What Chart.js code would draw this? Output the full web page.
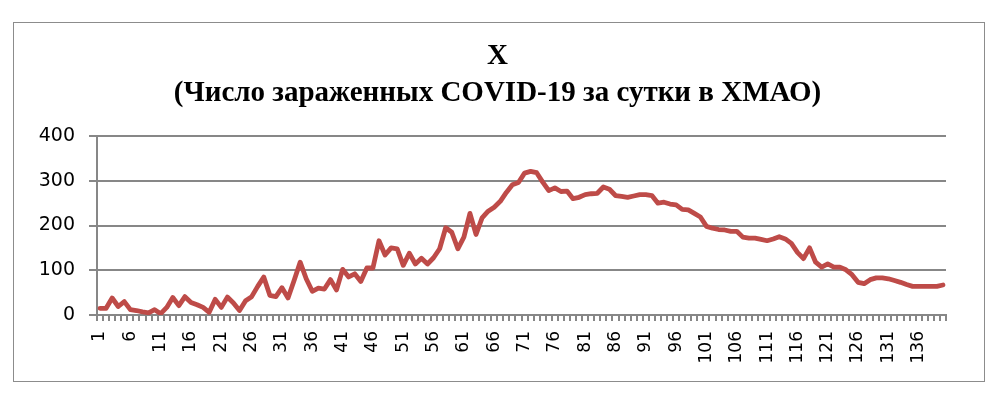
<!DOCTYPE html>
<html lang="ru">

<head>
  <meta charset="UTF-8">
  <meta name="viewport" content="width=device-width, initial-scale=1.0">
  <script src="https://cdn.jsdelivr.net/npm/chart.js"></script>
  <title>COVID-19 ХМАО</title>
  <style>
    body {
      margin: 0;
      background: #fff;
    }

    .moldura {
      position: absolute;
      left: 13px;
      top: 22px;
      width: 972px;
      height: 360px;
      border: 1px solid #8c8c8c;
      box-sizing: border-box;
    }
  </style>
</head>

<body>
  <div class="moldura">
    <canvas id="grafico"></canvas>
  </div>

  <script>
    // число заражённых за сутки
    const casos = [
      15, 15, 38, 19, 30, 12, 10, 7, 5, 12,
      3, 17, 39, 21, 41, 28, 23, 17, 6, 35,
      17, 40, 27, 10, 32, 41, 64, 85, 44, 41,
      61, 38, 77, 118, 81, 53, 60, 58, 79, 56,
      102, 85, 92, 75, 105, 105, 166, 134, 150, 148,
      111, 138, 114, 127, 114, 128, 148, 195, 185, 148,
      174, 227, 180, 217, 232, 241, 254, 274, 291, 296,
      317, 321, 318, 297, 278, 284, 276, 277, 260, 263,
      269, 271, 272, 286, 281, 267, 265, 263, 266, 269,
      269, 267, 250, 252, 248, 246, 236, 235, 227, 219,
      198, 194, 191, 190, 187, 187, 174, 172, 172, 169,
      166, 170, 175, 170, 160, 140, 126, 150, 118, 107,
      114, 107, 107, 101, 90, 73, 70, 79, 83, 83,
      81, 77, 73, 68, 64, 64, 64, 64, 64, 67
    ];

    // дни 1..140
    const dias = casos.map((v, i) => String(i + 1));

    const titulo = ['X', '(Число зараженных COVID-19 за сутки в ХМАО)'];

    const yMin = 0;
    const yMax = 400;
    const yPasso = 100;
    const passoRotulo = 5;

    const cinza = '#878787';

    // o titulo fica centrado na moldura inteira, nao so na area com padding
    const centralizaTitulo = {
      id: 'centralizaTitulo',
      beforeDraw: function (chart) {
        const bloco = chart.titleBlock;
        if (bloco) {
          bloco.left = 0;
          bloco.right = chart.width - 3;
        }
      }
    };

    const dados = {
      labels: dias,
      datasets: [{
        label: 'X',
        data: casos,
        borderColor: '#be4b48',
        borderWidth: 4.8,
        borderJoinStyle: 'round',
        borderCapStyle: 'round',
        pointRadius: 0,
        fill: false,
        tension: 0
      }]
    };

    const config = {
      type: 'line',
      data: dados,
      plugins: [centralizaTitulo],
      options: {
        responsive: true,
        maintainAspectRatio: false,
        animation: false,
        devicePixelRatio: 1,
        layout: {
          padding: { left: 0, right: 38, top: 0, bottom: 0 }
        },
        plugins: {
          legend: { display: false },
          tooltip: { enabled: false },
          title: {
            display: true,
            text: titulo,
            color: '#000',
            font: { family: 'Liberation Serif', weight: 'bold', size: 29, lineHeight: 1.276 },
            padding: { top: 15.5, bottom: 23.5 }
          }
        },
        scales: {
          x: {
            offset: true,
            grid: {
              offset: true,
              drawOnChartArea: false,
              color: cinza,
              lineWidth: 2,
              tickLength: 6
            },
            border: { display: true, color: cinza, width: 2 },
            ticks: {
              autoSkip: false,
              maxRotation: 90,
              minRotation: 90,
              padding: 10,
              color: '#000',
              font: { family: 'DejaVu Sans', size: 17 },
              callback: function (valor, indice) {
                return indice % passoRotulo === 0 ? this.getLabelForValue(valor) : '';
              }
            },
            afterFit: function (escala) {
              escala.height = 66;
            }
          },
          y: {
            min: yMin,
            max: yMax,
            grid: {
              color: cinza,
              lineWidth: 2,
              tickLength: 8
            },
            border: { display: true, color: cinza, width: 2 },
            ticks: {
              stepSize: yPasso,
              padding: 14,
              color: '#000',
              font: { family: 'DejaVu Sans', size: 19 }
            },
            afterFit: function (escala) {
              escala.width = 83;
            }
          }
        }
      }
    };

    let grafico = new Chart(document.getElementById('grafico'), config);
  </script>
</body>

</html>
